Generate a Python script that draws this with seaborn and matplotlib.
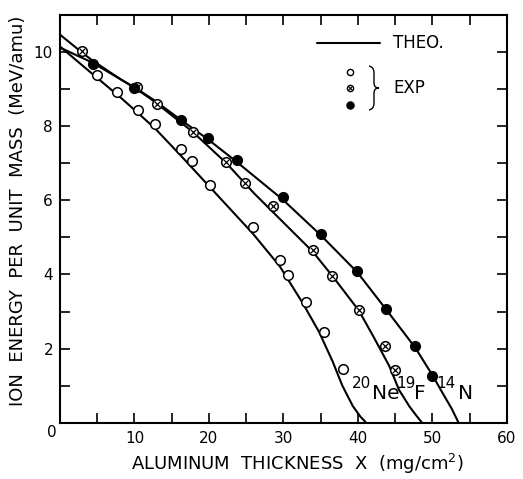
import matplotlib
matplotlib.use('Agg')
import matplotlib.pyplot as plt
from matplotlib.path import Path
import matplotlib.patches as mpatches
import seaborn as sns

# theoretical curves
ne_theo_x = [0, 5, 8.1, 10.5, 12.8, 16.2, 20.2, 25.9, 29.5, 32.6, 34.8, 36.6, 37.9, 39.3, 40.3, 41.1]
ne_theo_y = [10.15, 9.3, 8.78, 8.35, 7.93, 7.21, 6.34, 5.1, 4.22, 3.22, 2.44, 1.65, 1.0, 0.45, 0.17, 0.0]
f_theo_x = [0, 3, 4.3, 8.1, 10.3, 12.5, 17.8, 22.35, 26.0, 29.5, 33.9, 36.6, 40.1, 42.0, 44.2, 45.5, 46.9, 47.8, 48.6]
f_theo_y = [10.47, 9.98, 9.78, 9.27, 9.0, 8.69, 7.85, 7.0, 6.2, 5.5, 4.62, 3.95, 3.03, 2.35, 1.53, 0.89, 0.44, 0.2, 0.0]
n_theo_x = [0, 4.3, 8.1, 10.3, 12.5, 16.3, 19.9, 23.7, 29.9, 35.0, 39.9, 43.8, 47.7, 50.0, 51.3, 52.6, 53.5]
n_theo_y = [10.12, 9.72, 9.27, 9.01, 8.72, 8.16, 7.64, 7.04, 6.02, 5.06, 4.06, 3.05, 2.02, 1.28, 0.82, 0.37, 0.0]

# experimental points
ne_exp_x = [5.0, 7.7, 10.45, 12.8, 16.2, 17.7, 20.2, 25.9, 29.5, 30.6, 33.0, 35.5, 38.0]
ne_exp_y = [9.37, 8.92, 8.44, 8.05, 7.38, 7.05, 6.42, 5.27, 4.38, 3.98, 3.25, 2.44, 1.44]
f_exp_x = [3.0, 10.3, 13.0, 17.8, 22.3, 24.8, 28.6, 33.9, 36.5, 40.1, 43.6, 45.0]
f_exp_y = [10.03, 9.07, 8.61, 7.84, 7.03, 6.47, 5.84, 4.66, 3.96, 3.04, 2.06, 1.42]
n_exp_x = [4.4, 10.0, 16.3, 19.9, 23.7, 29.9, 35.0, 39.9, 43.8, 47.7, 50.0]
n_exp_y = [9.68, 9.03, 8.18, 7.67, 7.08, 6.09, 5.08, 4.09, 3.07, 2.07, 1.25]

sns.set_style('ticks')
plt.rcParams['font.family'] = ['DejaVu Sans']
plt.rcParams.update({'text.color': 'black', 'axes.labelcolor': 'black',
                     'xtick.color': 'black', 'ytick.color': 'black',
                     'axes.edgecolor': 'black'})

fig = plt.figure(figsize=(5.23, 4.79), dpi=100)
ax = fig.add_axes([0.1147, 0.1175, 0.8547, 0.8512])

# theory lines
for xs, ys in [(ne_theo_x, ne_theo_y), (f_theo_x, f_theo_y), (n_theo_x, n_theo_y)]:
    sns.lineplot(x=xs, y=ys, ax=ax, color='black', lw=1.5, sort=False, estimator=None)

# data points
sns.scatterplot(x=ne_exp_x, y=ne_exp_y, ax=ax, s=48, facecolor='white',
                edgecolor='black', linewidth=1.1, zorder=3)
sns.scatterplot(x=f_exp_x, y=f_exp_y, ax=ax, s=48, facecolor='white',
                edgecolor='black', linewidth=1.1, zorder=3)
sns.scatterplot(x=f_exp_x, y=f_exp_y, ax=ax, s=16, marker='x', color='black',
                linewidth=0.9, zorder=4)
sns.scatterplot(x=n_exp_x, y=n_exp_y, ax=ax, s=48, color='black',
                edgecolor='black', linewidth=1.1, zorder=3)

# axes
ax.set_xlim(0, 60)
ax.set_ylim(0, 11)
ax.set_xticks(range(0, 61, 10))
ax.set_xticks(range(5, 60, 10), minor=True)
ax.set_xticklabels([''] + [str(v) for v in range(10, 61, 10)])
ax.set_yticks(range(0, 11, 2))
ax.set_yticks(range(1, 12, 2), minor=True)
ax.set_yticklabels([''] + [str(v) for v in range(2, 11, 2)])
ax.tick_params(which='both', direction='in', top=True, right=True,
               length=7, width=1.2, labelsize=11)
ax.tick_params(axis='x', pad=6)
ax.tick_params(axis='y', pad=5)
for sp in ax.spines.values():
    sp.set_linewidth(1.5)
ax.text(-0.019, -0.024, '0', transform=ax.transAxes, fontsize=11,
        ha='center', va='center')

ax.set_xlabel('ALUMINUM  THICKNESS  X  (mg/cm$^{2}$)', fontsize=13)
ax.set_ylabel('ION  ENERGY  PER  UNIT  MASS  (MeV/amu)', fontsize=13)
ax.xaxis.set_label_coords(0.53, -0.072)
ax.yaxis.set_label_coords(-0.074, 0.52)

# hand drawn legend
ax.plot([0.574, 0.716], [0.932, 0.932], transform=ax.transAxes, color='black', lw=1.5)
ax.text(0.745, 0.932, 'THEO.', transform=ax.transAxes, fontsize=12, va='center')
ax.scatter([0.649], [0.861], transform=ax.transAxes, s=20, facecolor='white',
           edgecolor='black', linewidth=1.0, zorder=3)
ax.scatter([0.649], [0.822], transform=ax.transAxes, s=20, facecolor='white',
           edgecolor='black', linewidth=1.0, zorder=3)
ax.scatter([0.649], [0.822], transform=ax.transAxes, s=7, marker='x',
           color='black', linewidth=0.8, zorder=4)
ax.scatter([0.649], [0.779], transform=ax.transAxes, s=26, color='black', zorder=3)
ax.text(0.745, 0.822, 'EXP', transform=ax.transAxes, fontsize=12, va='center')


def px(xp, yp):
    return ((xp - 60) / 447, (422.7 - yp) / 407.7)


brace_pts = [px(369, 66), px(374, 67), px(374, 73), px(374, 83),
             px(374, 88), px(379, 88), px(374, 88), px(374, 93),
             px(374, 103), px(374, 109), px(369, 110)]
brace_codes = [Path.MOVETO, Path.CURVE3, Path.CURVE3, Path.LINETO,
               Path.CURVE3, Path.CURVE3, Path.CURVE3, Path.CURVE3,
               Path.LINETO, Path.CURVE3, Path.CURVE3]
ax.add_patch(mpatches.PathPatch(Path(brace_pts, brace_codes), transform=ax.transAxes,
                                facecolor='none', edgecolor='black', lw=1.0))

# curve labels
ax.text(40.5, 1.05, '20', fontsize=11, ha='center', va='center')
ax.text(43.8, 0.80, 'Ne', fontsize=14.5, ha='center', va='center')
ax.text(46.4, 1.07, '19', fontsize=11, ha='center', va='center')
ax.text(48.3, 0.80, 'F', fontsize=14.5, ha='center', va='center')
ax.text(51.8, 1.07, '14', fontsize=11, ha='center', va='center')
ax.text(54.4, 0.80, 'N', fontsize=14.5, ha='center', va='center')

plt.savefig('out.png', dpi=100)
